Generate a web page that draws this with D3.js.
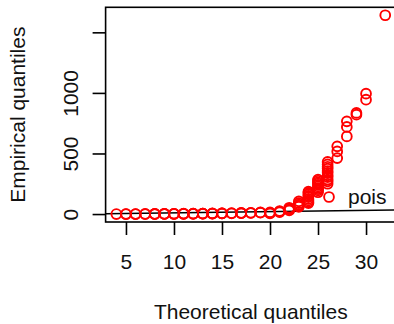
<!DOCTYPE html>
<html>
<head>
<meta charset="utf-8">
<script src="https://cdn.jsdelivr.net/npm/d3@7"></script>
<style>
  body { margin: 0; background: white; }
  text { font-family: "Liberation Sans", Arial, sans-serif; }
</style>
</head>
<body>
<svg width="394" height="324"></svg>
<script>
// QQ plot: empirical vs theoretical (pois)

// theoretical quantile for each group of points
const theoQ = [4, 5, 6, 7, 8, 9, 10, 11, 12, 13, 14, 15, 16, 17, 18, 19, 20, 21, 22, 23, 24, 25, 26, 27, 28, 29, 30, 32];
// empirical values sharing that theoretical quantile
const empQ = [
    [0], [0, 0], [0, 0], [0, 1], [0, 1, 1], [1, 1, 2], [1, 2, 2], [2, 2, 3],
    [2, 3, 3], [3, 3, 4], [4, 4, 5], [5, 5, 6], [6, 7], [7, 8, 9], [9, 10], [11, 13],
    [5, 10, 14], [15, 20, 25], [30, 38, 45, 52], [60, 68, 78, 90, 105],
    [90, 100, 112, 125, 140, 150, 162, 175, 185],
    [180, 195, 205, 215, 228, 240, 252, 262, 275, 285],
    [250, 270, 285, 305, 320, 340, 355, 375, 390, 410, 430],
    [462, 517, 559], [641, 719, 765], [820, 835], [944, 994], [1641]
];
const xTicks = [5, 10, 15, 20, 25, 30];
const yTicks = [0, 500, 1000, 1500];
const yTickLabels = ["0", "500", "1000", ""];
const legendText = ["pois"];

const points = [];
theoQ.forEach((q, i) => empQ[i].forEach(v => points.push({ x: q, y: v })));

function extend(ext) {
    const d = (ext[1] - ext[0]) * 0.04;
    return [ext[0] - d, ext[1] + d];
}

function drawQQ() {
    const svg = d3.select("svg");
    const left = 105.6, right = 396, top = 7.3, bottom = 222;
    const tick = 13;
    const fontSize = 21;
    const ink = "#111";

    const x = d3.scaleLinear()
        .domain(extend(d3.extent(points, d => d.x)))
        .range([left, right]);
    const y = d3.scaleLinear()
        .domain(extend(d3.extent(points, d => d.y)))
        .range([bottom, top]);

    svg.append("clipPath").attr("id", "plot-clip")
        .append("rect")
        .attr("x", left).attr("y", top)
        .attr("width", right - left).attr("height", bottom - top);

    const plot = svg.append("g").attr("clip-path", "url(#plot-clip)");

    // reference line y = x
    const xd = x.domain();
    plot.append("line")
        .attr("x1", x(xd[0])).attr("y1", y(xd[0]))
        .attr("x2", x(xd[1])).attr("y2", y(xd[1]))
        .attr("stroke", "black")
        .attr("stroke-width", 1.5);

    plot.selectAll("circle.pt")
        .data(points)
        .enter()
        .append("circle")
        .attr("class", "pt")
        .attr("cx", d => x(d.x))
        .attr("cy", d => y(d.y))
        .attr("r", 4.9)
        .attr("fill", "none")
        .attr("stroke", "#ff0000")
        .attr("stroke-width", 1.9);

    // box
    svg.append("rect")
        .attr("x", left).attr("y", top)
        .attr("width", right - left).attr("height", bottom - top)
        .attr("fill", "none")
        .attr("stroke", "black")
        .attr("stroke-width", 1.6);

    // bottom axis
    const xAxis = svg.append("g")
        .attr("transform", `translate(0,${bottom})`)
        .call(d3.axisBottom(x).tickValues(xTicks).tickSize(tick).tickPadding(19));
    xAxis.select(".domain").remove();
    xAxis.selectAll("line").attr("stroke-width", 1.6);
    xAxis.selectAll("text")
        .attr("font-size", fontSize)
        .attr("font-family", "Liberation Sans, Arial, sans-serif")
        .attr("fill", ink);

    // left axis, labels parallel to the axis
    const yAxis = svg.append("g")
        .attr("transform", `translate(${left},0)`)
        .call(d3.axisLeft(y).tickValues(yTicks).tickSize(tick).tickFormat((d, i) => yTickLabels[i]));
    yAxis.select(".domain").remove();
    yAxis.selectAll("line").attr("stroke-width", 1.6);
    yAxis.selectAll("text")
        .attr("x", null).attr("dy", null)
        .attr("font-size", fontSize)
        .attr("font-family", "Liberation Sans, Arial, sans-serif")
        .attr("fill", ink)
        .attr("text-anchor", "middle")
        .attr("transform", `translate(${78 - left},0) rotate(-90)`);

    // axis titles
    svg.append("text")
        .attr("x", (left + right) / 2)
        .attr("y", 319)
        .attr("text-anchor", "middle")
        .attr("font-size", fontSize)
        .attr("fill", ink)
        .text("Theoretical quantiles");

    svg.append("text")
        .attr("transform", `translate(25,${(top + bottom) / 2}) rotate(-90)`)
        .attr("text-anchor", "middle")
        .attr("font-size", fontSize)
        .attr("fill", ink)
        .text("Empirical quantiles");

    // legend (bottomright, no box)
    const legend = svg.append("g");
    legend.selectAll("circle")
        .data(legendText)
        .enter()
        .append("circle")
        .attr("cx", 329)
        .attr("cy", 197)
        .attr("r", 4.9)
        .attr("fill", "none")
        .attr("stroke", "#ff0000")
        .attr("stroke-width", 1.9);
    legend.selectAll("text")
        .data(legendText)
        .enter()
        .append("text")
        .attr("x", 348)
        .attr("y", 204)
        .attr("font-size", fontSize)
        .attr("fill", ink)
        .text(d => d);
}

drawQQ();
</script>
</body>
</html>
